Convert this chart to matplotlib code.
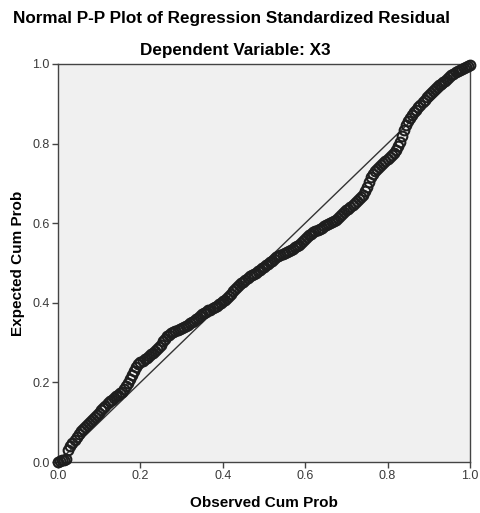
import matplotlib
matplotlib.use('Agg')
import matplotlib.pyplot as plt

plt.rcParams['font.family'] = ['Liberation Sans', 'DejaVu Sans']

# observed cumulative probability (x) and expected cumulative probability (y)
observed = [0.000, 0.005, 0.010, 0.015, 0.020, 0.025, 0.030, 0.035, 0.040, 0.045,
            0.050, 0.055, 0.060, 0.065, 0.070, 0.075, 0.080, 0.085, 0.090, 0.095,
            0.100, 0.105, 0.110, 0.115, 0.120, 0.125, 0.130, 0.135, 0.140, 0.145,
            0.150, 0.155, 0.160, 0.165, 0.170, 0.175, 0.180, 0.185, 0.190, 0.195,
            0.200, 0.205, 0.210, 0.215, 0.220, 0.225, 0.230, 0.235, 0.240, 0.245,
            0.250, 0.255, 0.260, 0.265, 0.270, 0.275, 0.280, 0.285, 0.290, 0.295,
            0.300, 0.305, 0.310, 0.315, 0.320, 0.325, 0.330, 0.335, 0.340, 0.345,
            0.350, 0.355, 0.360, 0.365, 0.370, 0.375, 0.380, 0.385, 0.390, 0.395,
            0.400, 0.405, 0.410, 0.415, 0.420, 0.425, 0.430, 0.435, 0.440, 0.445,
            0.450, 0.455, 0.460, 0.465, 0.470, 0.475, 0.480, 0.485, 0.490, 0.495,
            0.500, 0.505, 0.510, 0.515, 0.520, 0.525, 0.530, 0.535, 0.540, 0.545,
            0.550, 0.555, 0.560, 0.565, 0.570, 0.575, 0.580, 0.585, 0.590, 0.595,
            0.600, 0.605, 0.610, 0.615, 0.620, 0.625, 0.630, 0.635, 0.640, 0.645,
            0.650, 0.655, 0.660, 0.665, 0.670, 0.675, 0.680, 0.685, 0.690, 0.695,
            0.700, 0.705, 0.710, 0.715, 0.720, 0.725, 0.730, 0.735, 0.740, 0.745,
            0.750, 0.755, 0.760, 0.765, 0.770, 0.775, 0.780, 0.785, 0.790, 0.795,
            0.800, 0.805, 0.810, 0.815, 0.820, 0.825, 0.830, 0.835, 0.840, 0.845,
            0.850, 0.855, 0.860, 0.865, 0.870, 0.875, 0.880, 0.885, 0.890, 0.895,
            0.900, 0.905, 0.910, 0.915, 0.920, 0.925, 0.930, 0.935, 0.940, 0.945,
            0.950, 0.955, 0.960, 0.965, 0.970, 0.975, 0.980, 0.985, 0.990, 0.995,
            1.000]
expected = [0.000, 0.002, 0.004, 0.006, 0.008, 0.030, 0.040, 0.047, 0.055, 0.063,
            0.070, 0.077, 0.082, 0.087, 0.092, 0.098, 0.103, 0.108, 0.113, 0.119,
            0.124, 0.130, 0.135, 0.141, 0.147, 0.152, 0.157, 0.161, 0.165, 0.169,
            0.173, 0.177, 0.183, 0.190, 0.198, 0.208, 0.218, 0.229, 0.238, 0.245,
            0.250, 0.254, 0.258, 0.262, 0.266, 0.271, 0.275, 0.279, 0.283, 0.289,
            0.295, 0.303, 0.310, 0.316, 0.320, 0.323, 0.326, 0.329, 0.332, 0.335,
            0.337, 0.340, 0.342, 0.345, 0.348, 0.351, 0.354, 0.358, 0.363, 0.368,
            0.372, 0.375, 0.378, 0.381, 0.383, 0.386, 0.389, 0.393, 0.396, 0.400,
            0.404, 0.408, 0.412, 0.417, 0.422, 0.429, 0.435, 0.440, 0.445, 0.449,
            0.453, 0.458, 0.462, 0.466, 0.469, 0.473, 0.476, 0.480, 0.483, 0.487,
            0.490, 0.494, 0.498, 0.502, 0.506, 0.510, 0.514, 0.517, 0.520, 0.523,
            0.525, 0.528, 0.530, 0.533, 0.536, 0.539, 0.542, 0.546, 0.550, 0.555,
            0.560, 0.565, 0.570, 0.574, 0.577, 0.580, 0.583, 0.586, 0.589, 0.592,
            0.595, 0.598, 0.600, 0.603, 0.605, 0.608, 0.612, 0.617, 0.622, 0.627,
            0.632, 0.636, 0.640, 0.645, 0.650, 0.655, 0.660, 0.665, 0.670, 0.680,
            0.690, 0.703, 0.715, 0.723, 0.730, 0.736, 0.742, 0.747, 0.752, 0.756,
            0.760, 0.765, 0.770, 0.776, 0.783, 0.793, 0.805, 0.820, 0.835, 0.846,
            0.856, 0.864, 0.872, 0.879, 0.885, 0.892, 0.898, 0.904, 0.910, 0.916,
            0.922, 0.928, 0.933, 0.938, 0.942, 0.946, 0.950, 0.954, 0.958, 0.962,
            0.966, 0.971, 0.975, 0.979, 0.982, 0.985, 0.988, 0.991, 0.993, 0.995,
            0.997]
ticks = [0.0, 0.2, 0.4, 0.6, 0.8, 1.0]
tickLabels = ['0.0', '0.2', '0.4', '0.6', '0.8', '1.0']

fig = plt.figure(figsize=(4.8, 5.13), dpi=100)
ax = fig.add_axes([0.121, 0.0994, 0.858, 0.776])
ax.set_facecolor('#f0f0f0')

# reference diagonal
ax.plot([0, 1], [0, 1], color='#333333', lw=1.0, zorder=2)
ax.plot(observed, expected, linestyle='none', marker='o', ms=7,
        mfc='none', mec='#1e1e1e', mew=1.5, zorder=3, clip_on=False)

ax.set_xlim(0, 1)
ax.set_ylim(0, 1)
ax.set_xticks(ticks)
ax.set_xticklabels(tickLabels)
ax.set_yticks(ticks)
ax.set_yticklabels(tickLabels)
ax.tick_params(direction='out', length=4, width=1, color='#444444',
               labelsize=9, labelcolor='#3a3a3a', pad=2)
for s in ax.spines.values():
    s.set_color('#444444')
    s.set_linewidth(1)

ax.set_xlabel('Observed Cum Prob', fontsize=11, fontweight='bold', labelpad=10)
ax.set_ylabel('Expected Cum Prob', fontsize=11, fontweight='bold', labelpad=5)

fig.text(0.483, 1 - 18 / 513, 'Normal P-P Plot of Regression Standardized Residual',
         ha='center', va='center', fontsize=12.3, fontweight='bold')
fig.text(0.49, 1 - 50 / 513, 'Dependent Variable: X3',
         ha='center', va='center', fontsize=12.3, fontweight='bold')

plt.savefig('out.png', dpi=100)
